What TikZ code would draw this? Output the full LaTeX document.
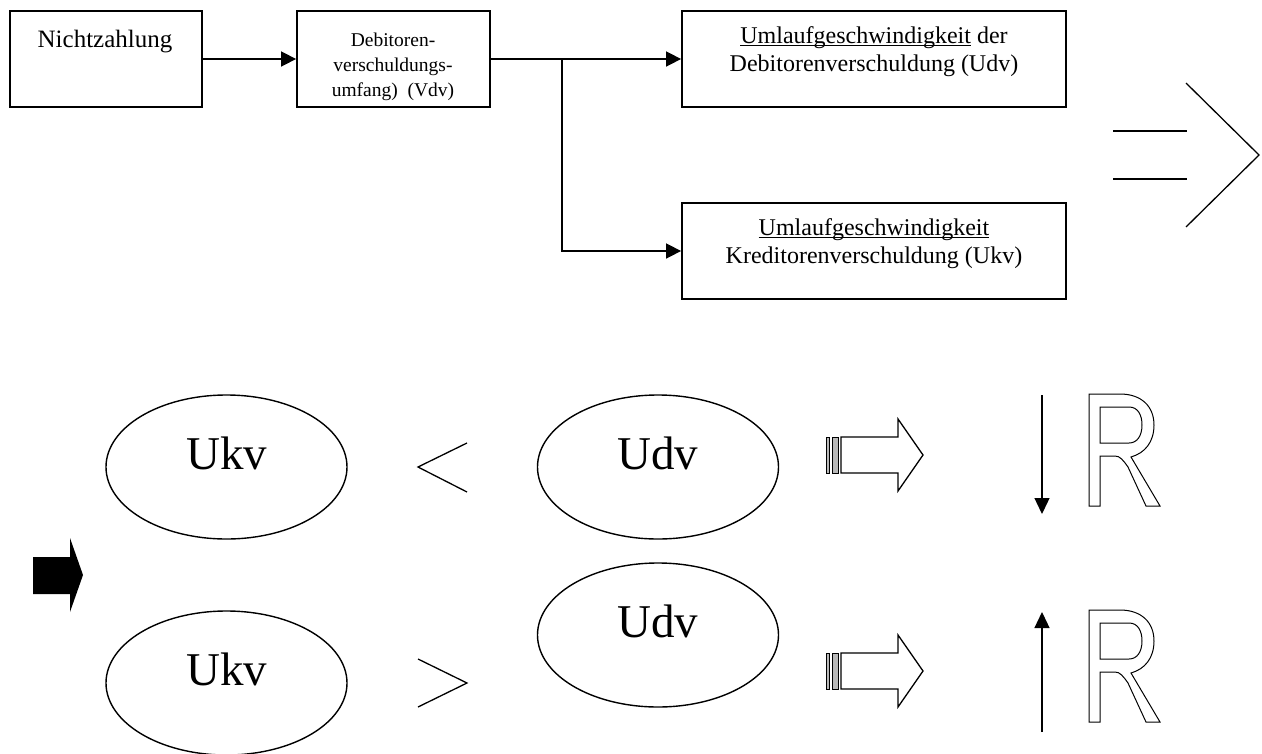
\documentclass[tikz,border=0pt]{standalone}
\usepackage{fontspec}
\setmainfont{Liberation Serif}
\usetikzlibrary{arrows.meta,shapes.geometric}
\newcommand\myul[1]{\setbox0\hbox{#1}\rlap{\rule[-3pt]{\wd0}{0.9pt}}\box0\relax}
\begin{document}
\begin{tikzpicture}[x=1pt,y=-1pt,
  box/.style={draw,line width=1.8pt,inner sep=0pt,minimum height=96pt},
  conn/.style={line width=1.6pt,-{Triangle[length=15pt,width=15pt]}},
  bigtxt/.style={anchor=base,inner sep=0pt,font=\fontsize{25}{28}\selectfont},
  midtxt/.style={anchor=base,inner sep=0pt,font=\fontsize{24}{28}\selectfont},
  smalltxt/.style={anchor=base,inner sep=0pt,font=\fontsize{19.5}{24}\selectfont},
  oval/.style={ellipse,draw,line width=1.4pt,inner sep=0pt,minimum width=241pt,minimum height=144pt},
  ovaltxt/.style={anchor=base,inner sep=0pt,font=\fontsize{47}{50}\selectfont},
  thin/.style={line width=1.3pt},
  vert/.style={line width=1.3pt,-{Triangle[length=16pt,width=15pt]}},
  Rshape/.style={line width=1pt,fill=white,even odd rule}]
\useasboundingbox (0,0) rectangle (1262,753);
\fill[white] (0,0) rectangle (1262,753);

% top boxes
\node[box,minimum width=192pt] (b1) at (106,59) {};
\node[box,minimum width=193pt] (b2) at (393.5,59) {};
\node[box,minimum width=384pt] (b3) at (874,59) {};
\node[box,minimum width=384pt] (b4) at (874,251) {};

\node[bigtxt] (t1) at (105,47) {Nichtzahlung};
\node[smalltxt] (t2a) at (393,46) {Debitoren-};
\node[smalltxt] (t2b) at (393,71) {verschuldungs-};
\node[smalltxt] (t2c) at (393,96) {umfang)\ \ (Vdv)};
\node[midtxt] (t3a) at (874,43) {\myul{Umlaufgeschwindigkeit} der};
\node[midtxt] (t3b) at (874,71) {Debitorenverschuldung (Udv)};
\node[midtxt] (t4a) at (874,235) {\myul{Umlaufgeschwindigkeit}};
\node[midtxt] (t4b) at (874,263) {Kreditorenverschuldung (Ukv)};

\coordinate (j) at (562,59);
\draw[conn] (b1) -- (b2);
\draw[conn] (b2) -- (b3);
\draw[conn] (j) |- (b4.west);

% implies symbol
\draw[thin] (1113,131) -- (1187,131);
\draw[thin] (1113,179) -- (1187,179);
\draw[thin] (1186,83) -- (1259,155) -- (1186,227);

% ellipses
\node[oval] (e1) at (226.5,467) {};
\node[oval] (e2) at (658,467) {};
\node[oval] (e3) at (226.5,683) {};
\node[oval] (e4) at (658,635) {};
\node[ovaltxt] (u1) at (227,469) {Ukv};
\node[ovaltxt] (u2) at (658,469) {Udv};
\node[ovaltxt] (u3) at (227,685) {Ukv};
\node[ovaltxt] (u4) at (658,637) {Udv};

% comparison signs
\draw[thin] (467,443) -- (418,467) -- (467,492);
\draw[thin] (418,659) -- (467,683) -- (418,707);

% black block arrow
\fill (33,557) -- (70,557) -- (70,538) -- (83,575) -- (70,612) -- (70,594) -- (33,594) -- cycle;

% hollow striped arrows
\foreach \c in {455,671} {
  \draw[line width=0.9pt,fill=gray!55] (826,\c-18) rectangle (829,\c+18);
  \draw[line width=0.9pt,fill=gray!55] (832,\c-18) rectangle (838,\c+18);
  \draw[line width=1.3pt,fill=white] (841,\c-18) -- (898,\c-18) -- (898,\c-36) -- (923,\c) -- (898,\c+36) -- (898,\c+18) -- (841,\c+18) -- cycle;
}

% vertical arrows
\draw[vert] (1042,395) -- (1042,514);
\draw[vert] (1042,732) -- (1042,612);

% outlined R letters
\foreach \t in {394,610} {
  \begin{scope}[shift={(1089,\t)}]
  \draw[Rshape] (0,112) -- (0,0) -- (31,0) .. controls (52,0) and (65,12) .. (65,31)
    .. controls (65,48) and (56,59) .. (42,63) -- (71,112) -- (57,112) -- (39,73)
    .. controls (34,66) and (31,62) .. (26,62) -- (11,62) -- (11,112) -- cycle
    (11,13) -- (40,13) .. controls (49,13) and (53,21) .. (53,31)
    .. controls (53,42) and (48,49) .. (40,49) -- (11,49) -- cycle;
  \end{scope}
}
\end{tikzpicture}
\end{document}
